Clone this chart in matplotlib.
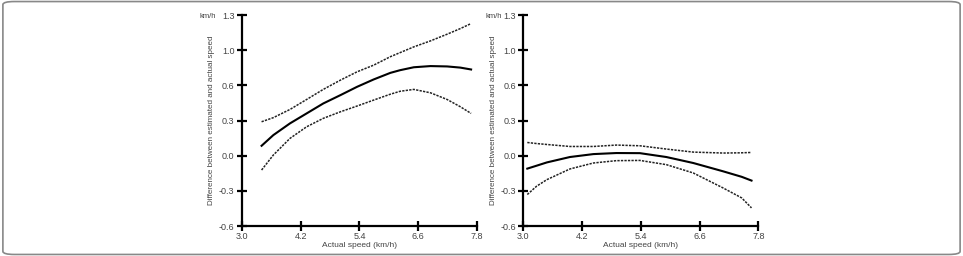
import matplotlib
matplotlib.use('Agg')
import matplotlib.pyplot as plt
from matplotlib.patches import FancyBboxPatch

plt.rcParams['font.family'] = ['Liberation Sans', 'DejaVu Sans']

y_ticks = [-0.6, -0.3, 0.0, 0.3, 0.6, 0.9, 1.2]
y_labels = ['-0.6', '-0.3', '0.0', '0.3', '0.6', '1.0', '1.3']
x_ticks = [3.0, 4.2, 5.4, 6.6, 7.8]
x_labels = ['3.0', '4.2', '5.4', '6.6', '7.8']

# left panel
left_x = [3.40, 3.64, 3.98, 4.32, 4.66, 5.01, 5.35, 5.69, 6.03, 6.23, 6.51, 6.85, 7.19, 7.46, 7.68]
left_mean = [0.085, 0.176, 0.276, 0.361, 0.446, 0.517, 0.588, 0.651, 0.707, 0.73, 0.755, 0.765, 0.762, 0.752, 0.736]
left_upper = [0.29, 0.325, 0.395, 0.48, 0.566, 0.645, 0.716, 0.773, 0.845, 0.88, 0.929, 0.98, 1.037, 1.085, 1.128]
left_lower = [-0.122, 0.006, 0.148, 0.247, 0.319, 0.375, 0.424, 0.475, 0.525, 0.55, 0.566, 0.537, 0.48, 0.418, 0.361]

# right panel
right_x = [3.08, 3.27, 3.48, 3.95, 4.43, 4.90, 5.38, 5.92, 6.47, 7.08, 7.46, 7.66]
right_mean = [-0.11, -0.085, -0.057, -0.011, 0.014, 0.023, 0.022, -0.011, -0.062, -0.133, -0.18, -0.212]
right_upper = [0.113, 0.104, 0.096, 0.079, 0.079, 0.091, 0.085, 0.057, 0.031, 0.023, 0.025, 0.028]
right_lower = [-0.331, -0.26, -0.204, -0.113, -0.062, -0.042, -0.04, -0.076, -0.147, -0.275, -0.36, -0.445]

ylabel = 'Difference between estimated and actual speed'
xlabel = 'Actual speed (km/h)'
text_color = '#444444'


def style_axis(ax):
    ax.set_xlim(3.0, 7.8)
    ax.set_ylim(-0.6, 1.2)
    for side in ('top', 'right'):
        ax.spines[side].set_visible(False)
    for side in ('left', 'bottom'):
        ax.spines[side].set_linewidth(1.6)
        ax.spines[side].set_color('black')
    ax.set_xticks(x_ticks)
    ax.set_xticklabels(x_labels)
    ax.set_yticks(y_ticks)
    ax.set_yticklabels(y_labels)
    ax.tick_params(direction='inout', length=7, width=1.6, labelsize=6.5,
                   labelcolor=text_color, pad=2)
    ax.tick_params(axis='x', pad=1)
    ax.set_xlabel(xlabel, fontsize=6, color=text_color, labelpad=0.5)
    ax.set_ylabel(ylabel, fontsize=5.8, color=text_color, labelpad=2.5)
    ax.patch.set_alpha(0)


def plot_panel(ax, x, mean, upper, lower):
    ax.plot(x, mean, color='black', lw=1.5, clip_on=False)
    ax.plot(x, upper, color='#222222', lw=1.1, ls=(0, (1.5, 0.8)), clip_on=False)
    ax.plot(x, lower, color='#222222', lw=1.1, ls=(0, (1.5, 0.8)), clip_on=False)
    style_axis(ax)


def main():
    fig = plt.figure(figsize=(9.63, 2.56), dpi=100)
    border = FancyBboxPatch((0.003, 0.006), 0.994, 0.988, transform=fig.transFigure,
                            boxstyle='round,pad=0,rounding_size=0.012',
                            fc='none', ec='#888888', lw=1.2, zorder=-5)
    fig.patches.append(border)

    ax1 = fig.add_axes([0.2513, 0.117, 0.244, 0.824])
    ax2 = fig.add_axes([0.5435, 0.117, 0.244, 0.824])

    plot_panel(ax1, left_x, left_mean, left_upper, left_lower)
    plot_panel(ax2, right_x, right_mean, right_upper, right_lower)

    fig.text(0.2075, 0.93, 'km/h', fontsize=5.5, color=text_color)
    fig.text(0.504, 0.93, 'km/h', fontsize=5.5, color=text_color)

    fig.savefig('out.png', dpi=100)


if __name__ == "__main__":
    main()
